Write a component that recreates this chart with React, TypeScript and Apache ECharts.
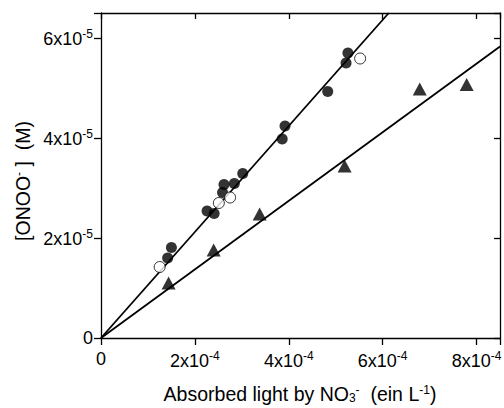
import React, { useEffect, useRef } from 'react';
import * as echarts from 'echarts';

// Filled circles: [absorbed light (ein/L), [ONOO-] (M)]
const filledCircles: [number, number][] = [
  [1.42e-4, 1.60e-5],
  [1.50e-4, 1.81e-5],
  [2.26e-4, 2.54e-5],
  [2.41e-4, 2.49e-5],
  [2.59e-4, 2.91e-5],
  [2.62e-4, 3.07e-5],
  [2.84e-4, 3.09e-5],
  [3.02e-4, 3.29e-5],
  [3.86e-4, 3.98e-5],
  [3.92e-4, 4.24e-5],
  [4.83e-4, 4.93e-5],
  [5.22e-4, 5.50e-5],
  [5.26e-4, 5.70e-5],
];

const openCircles: [number, number][] = [
  [1.25e-4, 1.42e-5],
  [2.51e-4, 2.70e-5],
  [2.75e-4, 2.81e-5],
  [5.52e-4, 5.59e-5],
];

const triangles: [number, number][] = [
  [1.44e-4, 1.10e-5],
  [2.40e-4, 1.76e-5],
  [3.38e-4, 2.48e-5],
  [5.19e-4, 3.44e-5],
  [6.79e-4, 4.98e-5],
  [7.79e-4, 5.07e-5],
];

// Fitted lines (end points)
const fitCircleLine: [number, number][] = [
  [0, 0],
  [6.13e-4, 6.5e-5],
];
const fitTriangleLine: [number, number][] = [
  [0, 0],
  [8.5e-4, 5.83e-5],
];

const X_MIN = 0;
const X_MAX = 8.5e-4;
const X_INTERVAL = 2e-4;
const X_EXP = '-4';
const Y_MIN = 0;
const Y_MAX = 6.5e-5;
const Y_INTERVAL = 2e-5;
const Y_EXP = '-5';

const FONT = 'Liberation Sans, Arial, sans-serif';

function makeFormatter(interval: number, exp: string) {
  return (v: number) => {
    const k = v / interval;
    if (Math.abs(k - Math.round(k)) > 1e-6) return '';
    if (Math.round(k) === 0) return '{b|0}';
    const m = Math.round(v / Math.pow(10, Number(exp)));
    return `{b|${m}x10}{s|${exp}}`;
  };
}

const rich = {
  b: { fontSize: 18, fontFamily: FONT, color: '#000', verticalAlign: 'bottom' as const },
  s: { fontSize: 12, fontFamily: FONT, color: '#000', verticalAlign: 'top' as const, padding: [0, 0, 8, 0] },
};

export default function App() {
  const ref = useRef<HTMLDivElement>(null);
  useEffect(() => {
    if (!ref.current) return;
    const chart = echarts.init(ref.current, undefined, { renderer: 'svg' });
    const axisLine = { show: true, onZero: false, lineStyle: { color: '#000', width: 1.3 } };
    chart.setOption({
      animation: false,
      backgroundColor: '#fff',
      grid: { left: 101, right: 4, top: 13, bottom: 70, outerBoundsMode: 'none' },
      xAxis: [
        {
          type: 'value',
          min: X_MIN,
          max: X_MAX,
          interval: X_INTERVAL,
          position: 'bottom',
          axisLine,
          axisTick: { show: true, inside: false, length: 7, lineStyle: { color: '#000', width: 1.3 } },
          splitLine: { show: false },
          axisLabel: { margin: 12, formatter: makeFormatter(X_INTERVAL, X_EXP), rich },
        },
        {
          type: 'value',
          min: X_MIN,
          max: X_MAX,
          interval: X_INTERVAL,
          position: 'top',
          axisLine,
          axisTick: { show: true, inside: true, length: 6, lineStyle: { color: '#000', width: 1.3 } },
          splitLine: { show: false },
          axisLabel: { show: false },
        },
      ],
      yAxis: [
        {
          type: 'value',
          min: Y_MIN,
          max: Y_MAX,
          interval: Y_INTERVAL,
          position: 'left',
          axisLine,
          axisTick: { show: true, inside: false, length: 7, lineStyle: { color: '#000', width: 1.3 } },
          splitLine: { show: false },
          axisLabel: { margin: 8, formatter: makeFormatter(Y_INTERVAL, Y_EXP), rich },
        },
        {
          type: 'value',
          min: Y_MIN,
          max: Y_MAX,
          interval: Y_INTERVAL,
          position: 'right',
          axisLine,
          axisTick: { show: true, inside: true, length: 6, lineStyle: { color: '#000', width: 1.3 } },
          splitLine: { show: false },
          axisLabel: { show: false },
        },
      ],
      graphic: [
        {
          type: 'text',
          x: 300,
          y: 394,
          style: {
            x: 0,
            y: 0,
            align: 'center',
            verticalAlign: 'middle',
            text: '{t|Absorbed light by NO}{sub|3}{sup|-}{t|  (ein L}{sup|-1}{t|)}',
            rich: {
              t: { fontSize: 19.5, fontFamily: FONT, color: '#000', verticalAlign: 'bottom' },
              sub: { fontSize: 12, fontFamily: FONT, color: '#000', verticalAlign: 'bottom', padding: [8, 0, 0, 0] },
              sup: { fontSize: 12, fontFamily: FONT, color: '#000', verticalAlign: 'top', padding: [0, 0, 8, 0] },
            },
          },
        },
        {
          type: 'text',
          x: 23,
          y: 181,
          rotation: Math.PI / 2,
          style: {
            x: 0,
            y: 0,
            align: 'center',
            verticalAlign: 'middle',
            text: '{t|[ONOO}{sup|-}{t| ]  (M)}',
            rich: {
              t: { fontSize: 19.5, fontFamily: FONT, color: '#000', verticalAlign: 'bottom' },
              sup: { fontSize: 12, fontFamily: FONT, color: '#000', verticalAlign: 'top', padding: [0, 0, 8, 0] },
            },
          },
        },
      ],
      series: [
        {
          type: 'line',
          data: fitCircleLine,
          symbol: 'none',
          lineStyle: { color: '#000', width: 1.8 },
          z: 2,
        },
        {
          type: 'line',
          data: fitTriangleLine,
          symbol: 'none',
          lineStyle: { color: '#000', width: 1.8 },
          z: 2,
        },
        {
          type: 'scatter',
          data: filledCircles,
          symbol: 'circle',
          symbolSize: 11,
          itemStyle: { color: '#000' },
          z: 3,
        },
        {
          type: 'scatter',
          data: openCircles,
          symbol: 'circle',
          symbolSize: 11,
          itemStyle: { color: '#fff', borderColor: '#000', borderWidth: 1 },
          z: 3,
        },
        {
          type: 'scatter',
          data: triangles,
          symbol: 'triangle',
          symbolSize: [14, 13],
          itemStyle: { color: '#000' },
          z: 3,
        },
      ],
    });
    return () => chart.dispose();
  }, []);
  return (
    <div
      ref={ref}
      style={{ position: 'absolute', left: 0, top: 0, width: 504, height: 408, background: '#fff' }}
    />
  );
}
